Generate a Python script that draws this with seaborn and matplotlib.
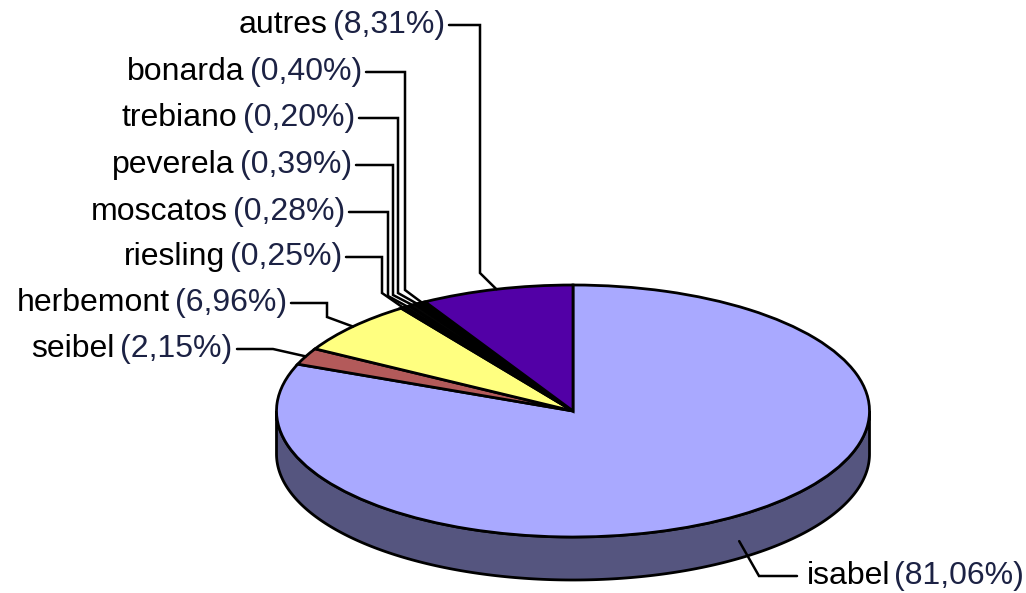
import numpy as np
import matplotlib
matplotlib.use("Agg")
import matplotlib.pyplot as plt
import seaborn as sns
from matplotlib.patches import Polygon

# ---- data ----
categories = ["isabel", "seibel", "herbemont", "riesling", "moscatos",
              "peverela", "trebiano", "bonarda", "autres"]
shares = [81.06, 2.15, 6.96, 0.25, 0.28, 0.39, 0.20, 0.40, 8.31]
pct_labels = ["(81,06%)", "(2,15%)", "(6,96%)", "(0,25%)", "(0,28%)",
              "(0,39%)", "(0,20%)", "(0,40%)", "(8,31%)"]
colors = ["#A9A9FF", "#B35A5A", "#FFFF80", "#080808", "#101010",
          "#050505", "#141414", "#000000", "#5200A6"]
side_color = "#55557F"

sns.set_theme(style="white")
plt.rcParams['font.family'] = ['Liberation Sans', 'DejaVu Sans']

W, H = 1026, 593
fig = plt.figure(figsize=(W / 100, H / 100), dpi=100)
ax = fig.add_axes([0, 0, 1, 1])

# ellipse geometry in pixels (layout)
CX, CY, A, B = 573, 411, 296.5, 126
DEPTH = 43 / B


def d(px, py):
    return ((px - CX) / A, (CY - py) / B)


wedges, _ = ax.pie(shares, colors=colors, startangle=90, counterclock=False,
                   wedgeprops=dict(edgecolor="black", linewidth=2.0), radius=1)
for w in wedges:
    w.set_zorder(3)

# 3D side band (front half)
th = np.linspace(np.pi, 2 * np.pi, 200)
top = np.column_stack([np.cos(th), np.sin(th)])
bot = np.column_stack([np.cos(th[::-1]), np.sin(th[::-1]) - DEPTH])
side = Polygon(np.vstack([top, bot]), closed=True, facecolor=side_color,
               edgecolor="black", linewidth=2.0, zorder=2)
ax.add_patch(side)

ax.set_aspect('auto')
ax.set_xlim(-CX / A, (W - CX) / A)
ax.set_ylim((CY - H) / B, CY / B)
ax.axis('off')

# label layout: (side, anchor x px, y px, elbow points px)
layout = {
    "isabel":    ("right", 807, 576, [(797, 576), (759, 576)]),
    "seibel":    ("left", 232, 349, [(237, 349), (273, 349)]),
    "herbemont": ("left", 287, 303, [(291, 303), (327, 303), (327, 317)]),
    "riesling":  ("left", 342, 257, [(346, 257), (382, 257), (382, 293)]),
    "moscatos":  ("left", 345, 212, [(349, 212), (388, 212), (388, 296)]),
    "peverela":  ("left", 352, 165, [(356, 165), (393, 165), (393, 295)]),
    "trebiano":  ("left", 355, 118, [(359, 118), (398, 118), (398, 293)]),
    "bonarda":   ("left", 362, 72, [(366, 72), (405, 72), (405, 290)]),
    "autres":    ("left", 445, 25, [(449, 25), (480, 25), (480, 273)]),
}

FS = 23
pct_color = "#1C2244"
fig.canvas.draw()
renderer = fig.canvas.get_renderer()

for cat, pct, w in zip(categories, pct_labels, wedges):
    side_, ax_px, ay_px, elbows = layout[cat]
    mid = np.deg2rad((w.theta1 + w.theta2) / 2)
    ex, ey = np.cos(mid), np.sin(mid)
    if ey < 0:
        ey -= DEPTH * 0.6
    pts = [d(*p) for p in elbows] + [(ex, ey)]
    xs, ys = zip(*pts)
    ax.plot(xs, ys, color="black", lw=1.8, zorder=4, solid_joinstyle="miter")
    tx, ty = d(ax_px, ay_px)
    if side_ == "left":
        t = ax.text(tx, ty, pct, ha="right", va="center", fontsize=FS,
                    color=pct_color, zorder=5)
        bb = t.get_window_extent(renderer)
        nx, _ = d(ax_px - bb.width - 5, ay_px)
        ax.text(nx, ty, cat, ha="right", va="center", fontsize=FS,
                color="black", zorder=5)
    else:
        t = ax.text(tx, ty, cat, ha="left", va="center", fontsize=FS,
                    color="black", zorder=5)
        bb = t.get_window_extent(renderer)
        nx, _ = d(ax_px + bb.width + 4, ay_px)
        ax.text(nx, ty, pct, ha="left", va="center", fontsize=FS,
                color=pct_color, zorder=5)

fig.savefig("out.png", dpi=100, facecolor="white")
